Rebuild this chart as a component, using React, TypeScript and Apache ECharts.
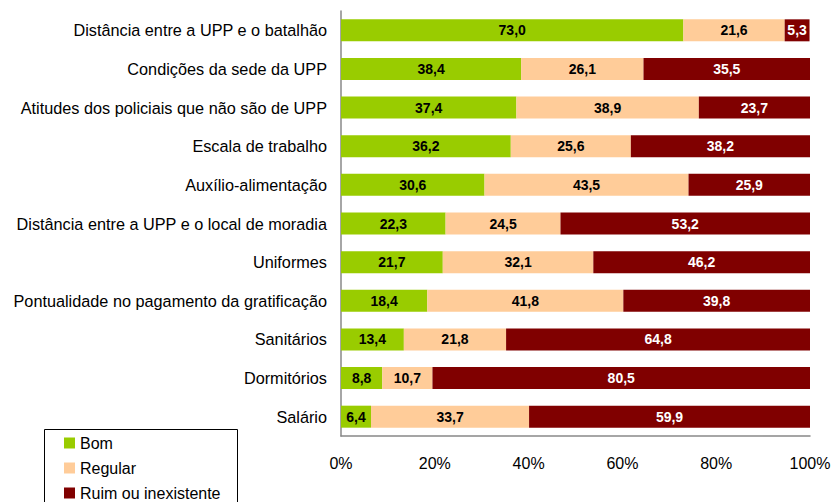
import React, { useEffect, useRef } from "react";
import * as echarts from "echarts";

const categories = [
  "Distância entre a UPP e o batalhão",
  "Condições da sede da UPP",
  "Atitudes dos policiais que não são de UPP",
  "Escala de trabalho",
  "Auxílio-alimentação",
  "Distância entre a UPP e o local de moradia",
  "Uniformes",
  "Pontualidade no pagamento da gratificação",
  "Sanitários",
  "Dormitórios",
  "Salário",
];
const bom = [73.0, 38.4, 37.4, 36.2, 30.6, 22.3, 21.7, 18.4, 13.4, 8.8, 6.4];
const regular = [21.6, 26.1, 38.9, 25.6, 43.5, 24.5, 32.1, 41.8, 21.8, 10.7, 33.7];
const ruim = [5.3, 35.5, 23.7, 38.2, 25.9, 53.2, 46.2, 39.8, 64.8, 80.5, 59.9];
const seriesNames = ["Bom", "Regular", "Ruim ou inexistente"];
const xTicks = { min: 0, max: 100, interval: 20 };

const FONT = "'Liberation Sans', Arial, sans-serif";

export default function App() {
  const ref = useRef<HTMLDivElement>(null);
  useEffect(() => {
    if (!ref.current) return;
    const chart = echarts.init(ref.current, undefined, { renderer: "svg" });
    const fmt = (p: any) => Number(p.value).toFixed(1).replace(".", ",");
    const mk = (name: string, data: number[], color: string, labelColor: string) => ({
      name,
      type: "bar",
      stack: "total",
      data,
      barWidth: 22,
      itemStyle: { color },
      label: {
        show: true,
        position: "inside",
        formatter: fmt,
        color: labelColor,
        fontFamily: FONT,
        fontSize: 14,
        fontWeight: "bold",
      },
    });
    chart.setOption({
      animation: false,
      textStyle: { fontFamily: FONT },
      grid: { left: 341, right: 25, top: 11, bottom: 66, containLabel: false },
      legend: {
        orient: "vertical",
        left: 64,
        top: 435,
        height: 90,
        padding: 0,
        itemWidth: 11,
        itemHeight: 11,
        itemGap: 9,
        icon: "rect",
        textStyle: { fontFamily: FONT, fontSize: 16, color: "#000", lineHeight: 16 },
        data: seriesNames,
      },
      graphic: [
        {
          type: "rect",
          shape: { x: 44.5, y: 429.5, width: 193, height: 80 },
          style: { fill: "none", stroke: "#000", lineWidth: 1 },
        },
      ],
      xAxis: {
        type: "value",
        min: xTicks.min,
        max: xTicks.max,
        interval: xTicks.interval,
        axisLabel: {
          formatter: "{value}%",
          fontFamily: FONT,
          fontSize: 16,
          color: "#000",
          margin: 19,
        },
        axisLine: { show: true, lineStyle: { color: "#888", width: 1.5 } },
        axisTick: { show: false },
        splitLine: { show: false },
      },
      yAxis: {
        type: "category",
        inverse: true,
        data: categories,
        axisLabel: { fontFamily: FONT, fontSize: 16.25, color: "#000", margin: 14 },
        axisLine: { show: true, lineStyle: { color: "#888", width: 1.5 } },
        axisTick: { show: false },
      },
      series: [
        mk(seriesNames[0], bom, "#99CC00", "#000"),
        mk(seriesNames[1], regular, "#FFCC99", "#000"),
        mk(seriesNames[2], ruim, "#800000", "#fff"),
      ],
    });
    return () => chart.dispose();
  }, []);
  return <div ref={ref} style={{ width: 835, height: 502, position: "absolute", left: 0, top: 0 }} />;
}
